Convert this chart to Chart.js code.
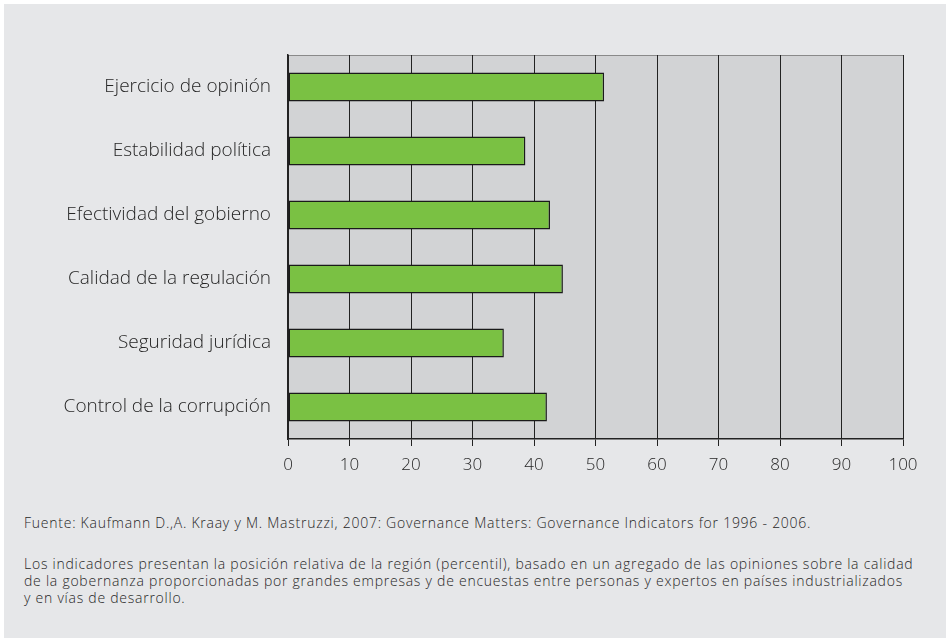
<!DOCTYPE html>
<html>
<head>
<meta charset="utf-8">
<script src="https://cdn.jsdelivr.net/npm/chart.js@4.4.0/dist/chart.umd.min.js"></script>
<style>
  html, body { margin: 0; padding: 0; background: #ffffff; }
  #box { position: absolute; left: 4px; top: 4px; width: 942px; height: 634px; background: #e6e7e9; }
  #wrap { position: absolute; left: 0; top: 0; width: 950px; height: 490px; }
  .note { position: absolute; left: 24px; font-family: "Open Sans", sans-serif; font-weight: 300; font-size: 14px; color: #262626; line-height: 17px; letter-spacing: 0.75px; white-space: nowrap; }
</style>
</head>
<body>
<div id="box"></div>
<div id="wrap"><canvas id="myChart" width="950" height="490"></canvas></div>
<div class="note" style="top:514px;">Fuente: Kaufmann D.,A. Kraay y M. Mastruzzi, 2007: Governance Matters: Governance Indicators for 1996 - 2006.</div>
<div class="note" style="top:555px;">Los indicadores presentan la posición relativa de la región (percentil), basado en un agregado de las opiniones sobre la calidad<br>de la gobernanza proporcionadas por grandes empresas y de encuestas entre personas y expertos en países industrializados<br>y en vías de desarrollo.</div>
<script>
var labels = ['Ejercicio de opinión', 'Estabilidad política', 'Efectividad del gobierno', 'Calidad de la regulación', 'Seguridad jurídica', 'Control de la corrupción'];
var values = [51.4, 38.6, 42.6, 44.7, 35.1, 42.1];
var xTicks = [0, 10, 20, 30, 40, 50, 60, 70, 80, 90, 100];

// plot background and the thin top border
var plotBg = {
  id: 'plotBg',
  beforeDraw: function (chart) {
    var a = chart.chartArea;
    var ctx = chart.ctx;
    ctx.save();
    ctx.fillStyle = '#d2d3d5';
    ctx.fillRect(a.left, a.top, a.right - a.left, a.bottom - a.top);
    ctx.strokeStyle = '#8a8a8a';
    ctx.lineWidth = 1;
    ctx.beginPath();
    ctx.moveTo(a.left, a.top + 0.5);
    ctx.lineTo(a.right, a.top + 0.5);
    ctx.stroke();
    ctx.restore();
  }
};

var ctx = document.getElementById('myChart').getContext('2d');
var myChart = new Chart(ctx, {
  type: 'bar',
  data: {
    labels: labels,
    datasets: [{
      data: values,
      backgroundColor: '#7ac143',
      borderColor: '#1a1a1a',
      borderWidth: 1.5,
      borderSkipped: false,
      barPercentage: 0.9,
      categoryPercentage: 0.5
    }]
  },
  options: {
    indexAxis: 'y',
    responsive: false,
    animation: false,
    layout: { padding: { top: 55, right: 47, left: 0, bottom: 0 } },
    plugins: { legend: { display: false }, tooltip: { enabled: false } },
    scales: {
      x: {
        min: 0,
        max: 100,
        afterBuildTicks: function (s) { s.ticks = xTicks.map(function (v) { return { value: v }; }); },
        afterFit: function (s) { s.height = 51; },
        grid: { color: '#222', lineWidth: 1, tickLength: 7, drawOnChartArea: true },
        border: { color: '#222', width: 1.5 },
        ticks: { color: '#262626', padding: 9, font: { family: 'Open Sans', size: 17, weight: 300 } }
      },
      y: {
        afterFit: function (s) { s.width = 288; },
        grid: { display: false },
        border: { color: '#222', width: 1.5 },
        ticks: { color: '#262626', padding: 9, font: { family: 'Open Sans', size: 19, weight: 300 } }
      }
    }
  },
  plugins: [plotBg]
});
</script>
</body>
</html>
